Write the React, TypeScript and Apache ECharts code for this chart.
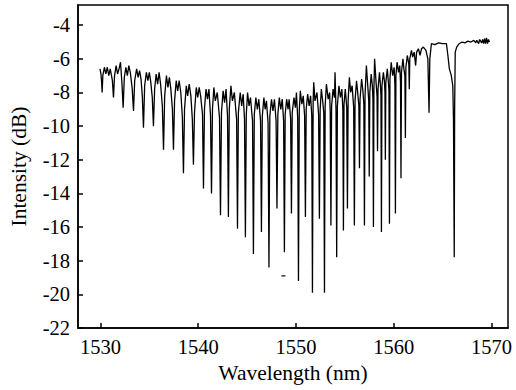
import React, { useEffect, useRef } from "react";
import * as echarts from "echarts";

// Tick values
const xTicks = [1530, 1540, 1550, 1560, 1570];
const yTicks = [-22, -20, -18, -16, -14, -12, -10, -8, -6, -4];

// Spectrum trace, [wavelength (nm), intensity (dB)]
const segment1530: [number, number][] = [
  [1529.95, -6.6], [1530.05, -6.9], [1530.12, -7.4], [1530.17, -8.0], [1530.24, -7.0], [1530.4, -6.5],
  [1530.55, -6.9], [1530.7, -6.5], [1530.85, -7.0], [1531.0, -6.6], [1531.22, -7.3], [1531.33, -8.3],
  [1531.44, -7.0], [1531.6, -6.4], [1531.75, -6.9], [1531.9, -6.6], [1532.05, -6.2], [1532.2, -7.5],
  [1532.32, -8.9], [1532.44, -7.1], [1532.6, -6.5], [1532.75, -7.0], [1532.9, -6.4], [1533.05, -6.8],
  [1533.25, -7.8], [1533.38, -9.1], [1533.5, -7.3], [1533.7, -6.6], [1533.85, -7.1], [1534.0, -6.7],
  [1534.15, -7.2], [1534.28, -8.2], [1534.4, -10.1], [1534.52, -7.6], [1534.7, -6.8], [1534.85, -7.3],
  [1535.0, -6.8], [1535.15, -7.4], [1535.3, -8.3], [1535.42, -10.0], [1535.54, -7.8], [1535.7, -6.9],
  [1535.85, -7.5], [1536.0, -6.8], [1536.15, -7.5], [1536.33, -8.8], [1536.45, -11.4], [1536.57, -8.2],
  [1536.75, -7.0], [1536.9, -7.7], [1537.05, -7.1], [1537.2, -7.8], [1537.36, -9.0], [1537.47, -11.4],
  [1537.58, -8.5], [1537.75, -7.3], [1537.9, -7.9], [1538.05, -7.3], [1538.22, -8.0], [1538.38, -9.5],
  [1538.49, -12.8], [1538.6, -9.0], [1538.78, -7.6], [1538.92, -8.2], [1539.08, -7.5], [1539.25, -8.2],
  [1539.4, -9.6], [1539.51, -12.3], [1539.62, -9.2], [1539.8, -7.7], [1539.95, -8.3], [1540.1, -7.7],
  [1540.25, -8.2],
];

const segment1540: [number, number][] = [
  [1540.44, -9.3], [1540.54, -13.7], [1540.64, -9.0], [1540.8, -7.8], [1540.95, -8.4], [1541.1, -7.8],
  [1541.26, -9.4], [1541.36, -14.0], [1541.46, -9.0], [1541.6, -7.7], [1541.75, -8.5], [1541.95, -8.0],
  [1542.18, -9.5], [1542.28, -15.3], [1542.38, -9.2], [1542.55, -7.9], [1542.7, -8.6], [1542.85, -7.8],
  [1543.0, -9.4], [1543.09, -15.4], [1543.18, -9.0], [1543.35, -7.6], [1543.5, -8.5], [1543.7, -8.0],
  [1543.93, -9.6], [1544.02, -16.1], [1544.11, -9.2], [1544.3, -8.0], [1544.45, -8.8], [1544.6, -8.1],
  [1544.74, -9.6], [1544.83, -16.6], [1544.92, -9.3], [1545.05, -8.0], [1545.2, -8.8], [1545.35, -8.3],
  [1545.56, -9.7], [1545.65, -17.6], [1545.74, -9.3], [1545.9, -8.3], [1546.05, -9.0], [1546.2, -8.4],
  [1546.38, -9.7], [1546.47, -16.3], [1546.56, -9.4], [1546.72, -8.3], [1546.85, -9.0], [1546.98, -8.5],
  [1547.15, -9.8], [1547.24, -18.4], [1547.33, -9.4], [1547.5, -8.4], [1547.65, -9.1], [1547.8, -8.4],
  [1547.97, -9.7], [1548.06, -14.9], [1548.15, -9.3], [1548.3, -8.3], [1548.45, -9.0], [1548.6, -8.4],
  [1548.74, -9.7], [1548.82, -17.5], [1548.9, -9.3], [1549.05, -8.4], [1549.2, -9.0], [1549.3, -8.4],
  [1549.46, -9.6], [1549.54, -15.2], [1549.62, -9.2], [1549.8, -8.3], [1549.95, -8.9], [1550.05, -8.0],
];

const segment1550: [number, number][] = [
  [1550.18, -9.5], [1550.26, -19.2], [1550.34, -9.1], [1550.45, -7.9], [1550.6, -8.7], [1550.75, -8.2],
  [1550.89, -9.4], [1550.97, -15.4], [1551.05, -9.0], [1551.2, -8.1], [1551.35, -8.8], [1551.5, -8.2],
  [1551.62, -9.4], [1551.69, -19.9], [1551.76, -8.6], [1551.82, -7.4], [1551.95, -8.5], [1552.15, -8.0],
  [1552.32, -9.3], [1552.4, -15.5], [1552.48, -9.0], [1552.6, -7.8], [1552.72, -8.4], [1552.85, -9.2],
  [1552.92, -19.9], [1552.99, -8.8], [1553.12, -7.5], [1553.3, -8.4], [1553.45, -8.0], [1553.51, -9.2],
  [1553.58, -15.9], [1553.65, -8.8], [1553.8, -7.8], [1553.95, -8.3], [1554.0, -6.8], [1554.1, -9.0],
  [1554.17, -17.8], [1554.24, -8.8], [1554.4, -7.6], [1554.55, -8.3], [1554.7, -7.8], [1554.8, -9.0],
  [1554.86, -16.2], [1554.92, -8.7], [1555.05, -7.8], [1555.2, -8.9], [1555.27, -14.9], [1555.34, -8.5],
  [1555.47, -7.1], [1555.6, -8.0], [1555.75, -7.6], [1555.91, -8.9], [1555.98, -15.9], [1556.05, -8.5],
  [1556.2, -7.3], [1556.32, -8.0], [1556.44, -8.8], [1556.5, -12.5], [1556.56, -8.4], [1556.72, -7.2],
  [1556.85, -7.9], [1556.95, -8.7], [1557.01, -15.9], [1557.07, -8.2], [1557.21, -6.4], [1557.35, -7.6],
  [1557.45, -8.5], [1557.5, -13.0], [1557.56, -8.0], [1557.7, -6.9], [1557.82, -7.6], [1557.88, -8.4],
  [1557.93, -16.0], [1557.98, -7.8], [1558.05, -6.0], [1558.2, -7.4], [1558.3, -8.2], [1558.35, -11.5],
  [1558.4, -7.8], [1558.55, -6.8], [1558.65, -7.6], [1558.7, -8.2], [1558.75, -16.3], [1558.8, -7.6],
  [1558.95, -6.8], [1559.05, -7.3], [1559.11, -8.0], [1559.15, -12.0], [1559.2, -7.4], [1559.35, -6.6],
  [1559.45, -7.3], [1559.52, -7.9], [1559.57, -15.8], [1559.62, -7.2], [1559.75, -6.2], [1559.9, -7.0],
  [1560.05, -6.5],
];

const segment1560: [number, number][] = [
  [1560.13, -7.6], [1560.18, -15.2], [1560.23, -7.0], [1560.35, -6.2], [1560.5, -6.8], [1560.62, -6.4],
  [1560.7, -7.4], [1560.75, -13.1], [1560.8, -6.8], [1560.95, -6.0], [1561.05, -6.6], [1561.15, -7.0],
  [1561.2, -10.7], [1561.25, -6.5], [1561.4, -5.8], [1561.55, -6.3], [1561.6, -7.8], [1561.65, -6.0],
  [1561.82, -5.5], [1561.95, -5.9], [1562.1, -5.6], [1562.25, -6.4], [1562.35, -5.6], [1562.53, -5.4],
  [1562.7, -5.8], [1562.85, -5.4], [1563.04, -5.3], [1563.3, -5.5], [1563.5, -6.0], [1563.62, -9.2],
  [1563.7, -6.0], [1563.86, -5.1], [1564.2, -5.15], [1564.6, -5.05], [1565.0, -5.1], [1565.4, -5.1],
  [1565.55, -5.8], [1565.7, -6.6], [1565.9, -7.0], [1566.05, -7.6], [1566.12, -9.5], [1566.2, -17.8],
  [1566.24, -9.0], [1566.3, -5.6], [1566.45, -5.3], [1566.7, -5.1], [1567.0, -5.0], [1567.3, -5.05],
  [1567.6, -4.95], [1567.9, -5.0], [1568.2, -4.9], [1568.4, -5.05], [1568.5, -4.9], [1568.7, -5.1],
  [1568.8, -4.85], [1569.0, -5.05], [1569.1, -4.85], [1569.2, -5.1], [1569.3, -4.8], [1569.4, -5.1],
  [1569.5, -4.75], [1569.6, -5.1], [1569.7, -4.85], [1569.8, -5.0],
];

// Isolated stray sample
const strayPoint: [number, number][] = [[1548.72, -18.9]];

const FONT = "Liberation Serif";

export default function App() {
  const ref = useRef<HTMLDivElement>(null);
  useEffect(() => {
    document.body.style.margin = "0";
    if (!ref.current) return;
    const chart = echarts.init(ref.current, undefined, { renderer: "svg" });
    const trace = [...segment1530, ...segment1540, ...segment1550, ...segment1560];
    chart.setOption({
      animation: false,
      backgroundColor: "#fff",
      textStyle: { fontFamily: FONT },
      grid: {
        left: 78,
        right: 8,
        top: 5,
        bottom: 62,
        show: true,
        borderColor: "#000",
        borderWidth: 1.5,
      },
      xAxis: {
        type: "value",
        min: 1527.7,
        max: 1571.7,
        name: "Wavelength (nm)",
        nameLocation: "middle",
        nameGap: 31,
        nameTextStyle: { fontFamily: FONT, fontSize: 21.5, color: "#000" },
        axisLine: { show: true, lineStyle: { color: "#000", width: 1.5 } },
        axisTick: { show: true, inside: true, length: 5, customValues: xTicks, lineStyle: { color: "#000", width: 1.5 } },
        axisLabel: {
          customValues: xTicks,
          formatter: (v: number) => String(v),
          fontFamily: FONT,
          fontSize: 20.5,
          color: "#000",
          margin: 8,
        },
        splitLine: { show: false },
      },
      yAxis: {
        type: "value",
        min: -22,
        max: -2.8,
        name: "Intensity (dB)",
        nameLocation: "middle",
        nameGap: 48,
        nameTextStyle: { fontFamily: FONT, fontSize: 21.5, color: "#000" },
        axisLine: { show: true, lineStyle: { color: "#000", width: 1.5 } },
        axisTick: { show: true, inside: true, length: 5, customValues: yTicks, lineStyle: { color: "#000", width: 1.5 } },
        axisLabel: {
          customValues: yTicks,
          formatter: (v: number) => String(v),
          fontFamily: FONT,
          fontSize: 20.5,
          color: "#000",
          margin: 8,
        },
        splitLine: { show: false },
      },
      series: [
        {
          type: "line",
          data: trace,
          showSymbol: false,
          symbol: "none",
          lineStyle: { color: "#000", width: 1.3 },
          silent: true,
        },
        {
          type: "scatter",
          data: strayPoint,
          symbol: "rect",
          symbolSize: [4, 1.5],
          itemStyle: { color: "#000" },
          silent: true,
        },
      ],
    });
    return () => chart.dispose();
  }, []);
  return <div ref={ref} style={{ width: 516, height: 390 }} />;
}
